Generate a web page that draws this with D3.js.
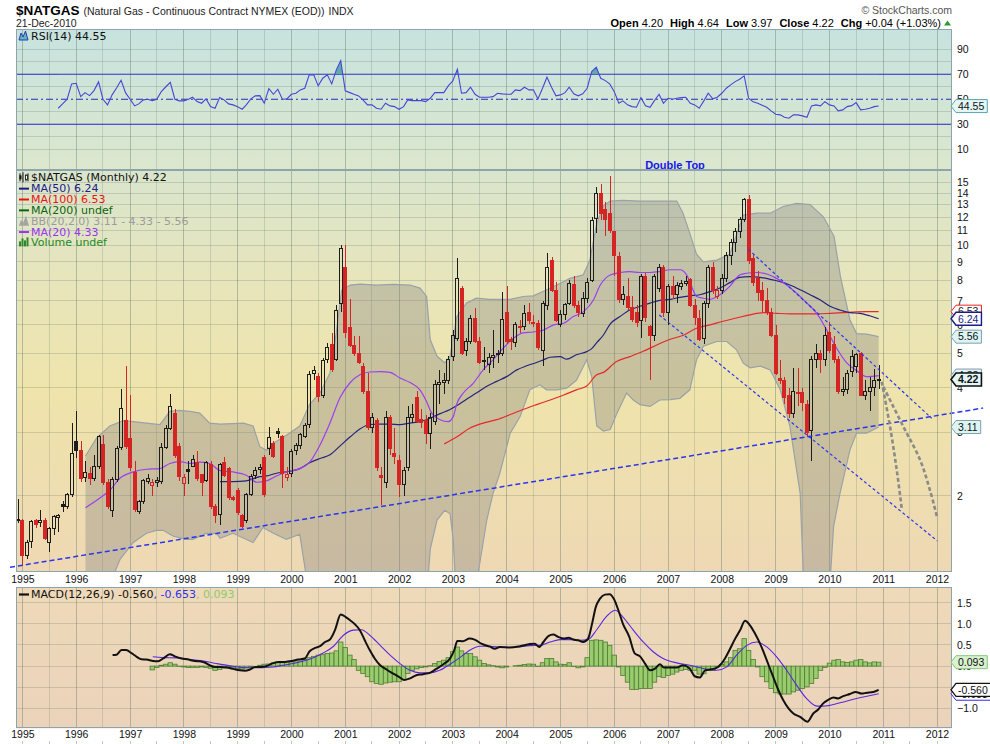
<!DOCTYPE html>
<html>
<head>
<meta charset="utf-8">
<title>$NATGAS</title>
<script src="https://cdnjs.cloudflare.com/ajax/libs/d3/7.8.5/d3.min.js"></script>
<style>
  body { margin: 0; background: #fff; }
  svg { display: block; }
  text { font-family: "Liberation Sans", Arial, sans-serif; }
  .leg { font-family: "DejaVu Sans", Verdana, sans-serif; font-size: 11px; }
  .ax text { font-size: 10.5px; fill: #111; font-family: "Liberation Sans", Arial, sans-serif; }
  .ax .domain { display: none; }
</style>
</head>
<body>
<svg id="chart" width="990" height="744"></svg>
<script>
// ---- data ----
const parseMonth = d3.timeParse('%Y-%m');
const candleStart = '1994-12';
// monthly [open, high, low, close]
const ohlc = [
  // 1994-12
  [1.72,1.96,1.68,1.71],
  // 1995
  [1.70,1.72,1.27,1.36],[1.36,1.50,1.33,1.48],[1.49,1.71,1.43,1.69],[1.70,1.72,1.62,1.66],
  [1.68,1.82,1.64,1.71],[1.71,1.73,1.50,1.52],[1.48,1.63,1.39,1.62],[1.62,1.77,1.55,1.75],
  [1.74,1.78,1.58,1.76],[1.89,1.93,1.80,1.87],[1.87,2.03,1.84,2.01],[2.01,3.20,1.98,2.63],
  // 1996
  [2.84,3.45,2.55,2.68],[2.68,2.85,2.18,2.23],[2.25,2.50,2.18,2.32],[2.30,2.40,2.14,2.24],
  [2.24,2.60,2.20,2.42],[2.41,2.95,2.38,2.92],[2.78,2.95,2.14,2.17],[2.18,2.22,1.84,1.87],
  [1.82,2.25,1.74,2.22],[2.22,2.75,2.18,2.71],[2.72,3.97,2.68,3.50],[3.25,4.60,2.70,2.75],
  // 1997
  [2.88,3.83,2.35,2.39],[2.32,2.50,1.80,1.83],[1.81,1.95,1.78,1.93],[1.93,2.22,1.90,2.20],
  [2.19,2.30,2.15,2.24],[2.14,2.22,1.99,2.17],[2.17,2.25,2.12,2.21],[2.19,2.80,2.15,2.72],
  [2.72,3.15,2.70,3.08],[3.08,3.85,3.05,3.55],[3.39,3.50,2.55,2.59],[2.75,2.80,2.20,2.26],
  // 1998
  [2.16,2.30,1.99,2.25],[2.36,2.50,2.15,2.33],[2.42,2.60,2.40,2.52],[2.47,2.67,2.20,2.24],
  [2.29,2.30,2.00,2.18],[2.20,2.50,2.18,2.47],[2.45,2.50,1.84,1.86],[1.87,1.90,1.68,1.76],
  [1.77,2.46,1.66,2.44],[2.47,2.57,2.25,2.28],[2.38,2.40,1.95,1.98],[1.98,2.00,1.93,1.95],
  // 1999
  [2.07,2.10,1.77,1.79],[1.76,1.78,1.62,1.64],[1.70,2.03,1.68,2.01],[2.01,2.30,2.00,2.26],
  [2.28,2.40,2.22,2.35],[2.36,2.45,2.30,2.40],[2.55,2.60,1.98,2.02],[2.70,3.12,2.60,2.90],
  [2.80,2.85,2.55,2.57],[3.02,3.10,2.90,2.99],[2.92,2.95,2.10,2.31],[2.25,2.40,2.20,2.29],
  // 2000
  [2.30,2.70,2.25,2.66],[2.68,2.80,2.60,2.76],[2.76,3.00,2.70,2.96],[2.93,3.20,2.90,3.15],
  [3.17,4.45,3.10,4.37],[4.40,4.60,4.20,4.48],[4.30,4.40,3.65,3.78],[3.80,4.85,3.75,4.78],
  [4.80,5.35,4.70,5.20],[5.30,5.70,4.42,4.50],[4.80,6.80,4.75,6.60],[6.90,10.0,6.50,9.80],
  // 2001
  [8.70,10.0,5.50,5.70],[5.90,7.10,5.20,5.25],[5.25,5.60,4.90,5.00],[5.00,5.60,4.65,4.70],
  [4.60,4.70,3.85,3.90],[3.90,4.40,3.05,3.10],[3.10,3.40,3.00,3.30],[3.25,3.30,2.35,2.40],
  [2.28,2.40,1.88,2.25],[2.18,3.45,2.10,3.30],[3.30,3.35,2.60,2.70],[2.63,3.10,2.45,2.58],
  // 2002
  [2.50,2.60,1.98,2.15],[2.15,2.40,2.00,2.35],[2.40,3.55,2.35,3.30],[3.30,3.60,3.20,3.37],
  [3.75,3.92,3.20,3.22],[3.27,3.50,3.10,3.20],[3.25,3.35,2.78,2.98],[2.98,3.40,2.70,3.30],
  [3.22,4.20,3.15,4.10],[4.10,4.50,3.60,4.15],[4.15,4.40,3.85,4.20],[4.20,4.90,4.10,4.80],
  // 2003
  [4.90,5.80,4.75,5.60],[5.50,9.20,5.40,8.10],[7.60,7.70,4.95,5.00],[5.10,5.50,4.90,5.40],
  [5.40,6.40,5.30,6.25],[6.25,6.70,5.35,5.40],[5.40,5.55,4.65,4.70],[4.75,5.20,4.50,4.77],
  [4.65,5.00,4.40,4.85],[4.85,5.80,4.55,4.93],[5.00,5.10,4.70,4.95],[5.00,7.40,4.90,6.20],
  // 2004
  [6.50,7.70,5.30,5.40],[5.45,5.55,5.10,5.38],[5.35,6.10,5.20,6.00],[5.95,6.20,5.70,5.90],
  [5.95,6.80,5.80,6.45],[6.50,6.90,6.05,6.15],[6.10,6.40,5.90,6.08],[6.05,6.20,5.10,5.20],
  [5.10,7.00,4.60,6.90],[6.80,9.50,6.60,8.70],[9.10,9.30,7.40,7.50],[7.50,7.90,6.10,6.15],
  // 2005
  [6.00,6.60,5.90,6.40],[6.40,6.90,6.20,6.85],[6.90,8.00,6.80,7.85],[7.80,8.20,6.70,6.80],
  [6.80,7.00,6.30,6.50],[6.45,7.40,6.30,7.10],[7.10,8.10,6.90,7.90],[8.00,12.0,7.90,11.7],
  [11.9,14.6,10.8,14.0],[14.0,14.8,11.8,12.3],[12.6,13.2,10.6,11.8],[12.3,15.6,10.8,11.0],
  // 2006
  [10.9,11.0,8.20,9.40],[9.30,9.60,6.90,7.05],[7.05,7.70,6.80,7.30],[7.20,8.10,6.60,6.70],
  [6.70,7.20,6.10,6.20],[6.50,6.80,5.90,6.10],[6.15,8.30,5.50,8.20],[8.20,8.40,6.10,6.30],
  [5.95,6.00,4.20,5.60],[5.60,8.30,5.40,8.20],[7.60,8.90,7.40,8.70],[8.70,8.80,6.30,6.50],
  // 2007
  [6.50,7.80,6.00,7.70],[7.70,8.20,7.10,7.30],[7.30,7.90,6.90,7.75],[7.70,8.00,7.50,7.85],
  [7.85,8.20,7.70,7.95],[8.05,8.10,6.75,6.80],[6.80,7.10,6.00,6.30],[6.25,6.60,5.40,5.45],
  [5.50,7.00,5.30,6.90],[6.90,8.80,6.70,8.70],[8.70,9.00,7.30,7.50],[7.20,7.70,7.10,7.48],
  // 2008
  [7.50,8.30,7.30,8.10],[8.10,9.60,7.90,9.40],[9.40,10.4,8.80,10.2],[10.2,11.2,9.60,10.9],
  [10.9,12.0,10.5,11.8],[11.8,13.6,11.6,13.4],[13.4,13.8,8.90,9.10],[9.20,9.40,7.70,7.90],
  [8.10,8.50,7.00,7.40],[7.50,7.90,6.50,7.00],[7.00,7.60,6.40,6.50],[6.50,6.70,5.55,5.60],
  // 2009
  [5.60,6.00,4.35,4.40],[4.25,4.80,4.10,4.20],[4.20,4.30,3.60,3.75],[3.80,4.00,3.30,3.40],
  [3.40,4.55,3.30,3.90],[3.88,4.55,3.55,3.89],[3.88,4.00,3.45,3.65],[3.60,3.70,2.92,3.00],
  [3.05,4.90,2.50,4.80],[4.80,5.30,4.55,5.00],[5.00,5.10,4.40,4.80],[4.80,5.90,4.60,5.60],
  // 2010
  [5.70,6.10,5.00,5.10],[5.30,5.60,4.70,4.80],[4.80,4.90,3.85,3.90],[3.90,4.30,3.80,3.95],
  [3.95,4.50,3.85,4.40],[4.45,5.10,4.30,4.90],[4.60,5.00,4.40,4.95],[5.00,5.05,3.80,3.82],
  [3.82,4.20,3.70,3.90],[3.90,4.30,3.45,4.02],[4.02,4.52,3.80,4.20],[4.20,4.64,3.97,4.22]
];

// overlays: [months after Jan 1995, price]
const ma20 = [[14.1,1.85],[17.3,1.97],[19.5,2.07],[21.8,2.24],[24.7,2.33],[27.7,2.37],[30.7,2.38],[32.9,2.46],
  [35.1,2.49],[37.4,2.46],[39.6,2.48],[41.8,2.46],[44.1,2.35],[47,2.33],[50,2.28],[52.3,2.18],[54.5,2.2],
  [56.7,2.27],[58.9,2.33],[61.9,2.38],[64.1,2.48],[66.4,2.77],[68.6,3.19],[70.8,3.75],[73.1,4.14],[75.3,4.35],
  [77.5,4.43],[79.8,4.44],[82,4.42],[84.2,4.26],[86.5,4.14],[88.7,3.95],[90.2,3.66],[91.3,3.4],[93.2,3.26],
  [95,3.22],[96.1,3.33],[96.9,3.62],[98.4,3.87],[100.6,4.12],[102.8,4.49],[105,4.79],[107.3,5.17],[109.5,5.5],
  [111.7,5.7],[114,5.73],[116.2,5.8],[118.5,6.0],[120.7,6.06],[122.9,6.33],[125.2,6.53],[127.4,7.05],
  [128.9,7.75],[131.1,8.27],[133.3,8.4],[135.5,8.45],[137.8,8.4],[140,8.4],[142.2,8.45],[144.5,8.55],
  [146.7,8.55],[148.2,8.27],[149.3,7.68],[150.4,7.2],[151.9,7.12],[153.4,7.07],[155.6,7.28],[157.8,7.68],
  [160,8.27],[161.5,8.36],[163.8,8.4],[166,8.32],[168.2,8.09],[170.5,7.75],[172.7,7.35],[175,6.9],
  [177.2,6.46],[179.4,5.8],[181.6,5.17],[183.9,4.7],[186.1,4.47],[188.3,4.3],[191,4.33]];
const bbUpper = [[14.1,2.58],[16.6,2.9],[19.5,3.13],[22.5,3.24],[24.7,3.22],[27.7,3.19],[30.7,3.16],[32.9,3.44],
  [35.1,3.46],[37.4,3.44],[39.6,3.4],[41.8,3.19],[44.1,3.17],[47,3.18],[49.3,3.19],[51.5,3.13],[53,2.74],
  [54.5,2.68],[56,2.8],[58.9,2.95],[61.9,3.13],[64.1,3.6],[66.4,3.87],[68.6,4.4],[70,5.7],[71.2,7.5],
  [73.1,7.75],[75.3,7.8],[79,7.75],[82.7,7.78],[86.5,7.75],[88.7,7.6],[90.2,7.2],[91,5.45],[92.5,4.9],
  [94.2,4.7],[95.4,4.9],[96.9,6.33],[99.1,6.9],[101.3,7.12],[104.3,7.07],[106.5,7.07],[108.8,7.07],
  [111.7,7.2],[114,7.23],[116.2,7.45],[119.2,7.75],[122.2,8.09],[125.1,8.27],[126.6,9.1],[128.1,11.5],
  [129.6,12.9],[131.1,13.3],[134,13.35],[137.8,13.3],[141.5,13.3],[146,13.3],[147.4,12.3],[148.9,10.8],
  [150.4,9.45],[151.9,9.0],[154.9,9.1],[157.8,9.45],[160.8,12.15],[163.8,12.3],[166.8,12.3],[169.7,12.84],
  [172.7,13.1],[175.7,13.0],[178.7,12.0],[181,10.6],[182.5,8.18],[184.6,6.2],[186.1,5.67],[188.3,5.65],[191,5.56]];
// null = below the bottom of the price panel
const bbLower = [[14.1,null],[19.5,null],[21.8,1.33],[24.7,1.48],[27.7,1.57],[29.9,1.60],[31.4,1.60],[33.7,1.54],
  [36.6,1.51],[38.1,1.51],[41.1,1.57],[43.3,1.57],[44.1,1.52],[47,1.57],[51.5,1.48],[53.7,1.63],[56,1.57],
  [58.9,1.51],[61.9,1.56],[63.6,null],[90.4,null],[91,1.42],[92.5,1.71],[94.2,1.82],[95.4,1.78],[96.1,1.50],
  [96.6,null],[101.3,null],[103.6,1.71],[105,2.03],[106.5,2.31],[108.8,2.99],[111,3.32],[113.2,3.95],
  [115.4,4.08],[116.9,3.95],[119.2,3.95],[121.4,3.99],[123.6,4.20],[125.9,4.79],[127,4.30],[128.1,3.13],
  [129.6,3.03],[131.1,3.06],[132.6,3.40],[134.8,3.87],[136.3,3.70],[137.8,3.59],[140,3.55],[142.2,3.70],
  [144.5,3.71],[146.7,3.74],[148.9,3.95],[150.4,4.79],[151.9,5.23],[154.9,5.39],[157.1,5.39],[159.3,5.11],
  [160.8,4.69],[162.3,4.55],[164.6,4.60],[166.8,4.49],[169,3.95],[171.2,3.13],[173.5,2.03],[174.3,null],
  [180.1,null],[180.9,1.64],[182.4,2.03],[184.6,2.68],[186.1,2.99],[188.3,2.99],[191,3.11]];
const ma50 = [[44.1,2.19],[47,2.19],[50,2.2],[53,2.26],[54.5,2.27],[56.7,2.31],[58.9,2.33],[61.9,2.38],[64.1,2.47],
  [66.4,2.54],[68.6,2.6],[70.8,2.75],[73.1,2.92],[75.3,3.07],[77.5,3.16],[79.8,3.17],[82,3.17],[84.2,3.16],
  [86.5,3.19],[88.7,3.22],[91,3.29],[93.2,3.39],[95.4,3.48],[96.9,3.57],[99.1,3.72],[101.3,3.87],[103.6,4.04],
  [105.8,4.17],[108,4.3],[110.3,4.49],[112.5,4.61],[114.7,4.71],[116.2,4.79],[117.7,4.87],[119.9,4.89],
  [121.4,4.81],[123.6,4.95],[125.9,5.05],[127,5.15],[128.1,5.35],[129.6,5.62],[131.1,6.03],[133.3,6.33],
  [135.5,6.6],[137.8,6.76],[140,6.9],[142.2,7.02],[144.5,7.07],[146.7,7.16],[148.9,7.23],[151.1,7.28],
  [153.4,7.43],[155.6,7.6],[157.8,7.87],[160,8.14],[162.3,8.18],[164.5,8.14],[166.8,8.04],[169,7.92],
  [171.2,7.75],[173.5,7.52],[175.7,7.28],[177.9,7.05],[180.1,6.76],[182.4,6.6],[184.6,6.49],[186.8,6.46],
  [189,6.36],[191,6.24]];
const ma100 = [[94.1,2.79],[96.9,2.92],[99.9,3.09],[102.8,3.19],[105.8,3.26],[108.8,3.37],[111.7,3.48],[114.7,3.59],
  [117.7,3.7],[120.7,3.82],[123.6,3.95],[125.9,4.05],[128.1,4.35],[129.6,4.42],[132.5,4.74],[135.5,4.89],
  [138.5,5.06],[141.5,5.27],[144.5,5.47],[147.5,5.61],[150.4,5.87],[153.4,6.0],[156.3,6.14],[159.3,6.27],
  [162.3,6.4],[165.3,6.49],[168.2,6.46],[171.2,6.44],[174.2,6.44],[177.2,6.44],[180.1,6.46],[183.1,6.49],
  [186.1,6.52],[188.3,6.53],[191,6.53]];

// RSI(14), monthly from Sep 1995
const rsiStart = '1995-09';
const rsi = [42.8,46.3,50,62.3,62.8,52.1,55.3,52.9,56.9,63.9,50,45.5,53.5,59,65.2,55.3,
  50,44.7,46.3,49.5,50,48.9,50,56.1,60,63.6,50,48.7,
  48.7,50,51.6,48.1,46.8,50.3,44.1,42.8,51.3,49.5,46.3,45.5,
  44,42,45.5,50.3,52.7,52.9,46.8,58.5,54,58,50,50.3,
  54,54.8,57.5,58.8,69.5,69.5,60.7,66.8,69.5,62.3,73.5,80.9,
  56.7,55.3,54,52.7,49.5,45.5,45.5,42.8,42,46.8,44.7,44.1,
  42,44.1,49.5,48.9,48.9,48.9,48.1,50.8,55.3,55.3,55.3,60.7,
  64.7,74,54.8,55.3,59.6,54,51.6,51.6,51.6,52.1,54.8,54.3,
  54,54,57.5,56.9,59.6,57.5,57.5,50.3,58.8,67.6,59.6,52.7,
  53.5,55.3,59.6,54.3,52.7,54.3,58.8,72.1,75.6,66.8,64.9,62.3,
  56.1,46.8,48.7,45.5,44.1,43.6,51.3,44.7,43.6,48.9,54,46.8,
  50.8,50,50.8,51.3,51.6,46.8,45.5,42.8,48.7,54.8,50.3,51.6,
  54.8,58.8,61.5,64.1,66,68.7,50.8,47.9,46.8,45.2,43.6,40.7,
  38,37.5,35.6,34.8,37.5,37.5,36.7,35.6,44.7,45.5,44.7,48.1,
  45.5,44.7,40.7,41.5,44.1,44.9,47.3,41.5,42,42.8,44.1,44.55];

// MACD(12,26,9): [months after Jan 1995, value]
const macdLine = [[20.1,0.26],[21,0.27],[22.1,0.38],[23.1,0.38],[24.4,0.30],[25.5,0.22],[26.6,0.16],[27.7,0.155],
  [29.2,0.12],[30.3,0.115],[31.4,0.18],[32.9,0.28],[34,0.23],[35.5,0.18],[37,0.155],[38.5,0.12],[39.6,0.115],
  [40.7,0.085],[41.8,0.02],[43,-0.02],[44.1,-0.02],[45.6,-0.035],[47,-0.065],[48.5,-0.10],[49.6,-0.11],
  [50.8,-0.08],[51.9,-0.02],[53,-0.02],[54.5,0],[55.6,0.06],[57.1,0.10],[58.6,0.10],[60.1,0.12],[61.5,0.155],
  [63,0.18],[64.1,0.35],[65.3,0.43],[66.4,0.47],[67.5,0.57],[68.6,0.63],[69.7,0.85],[71,1.22],[72.1,1.16],
  [73.1,1.08],[74.2,0.99],[75.3,0.85],[76.4,0.61],[77.5,0.38],[78.6,0.18],[79.8,0.02],[81.2,-0.08],
  [82.7,-0.175],[84.2,-0.27],[85.1,-0.33],[86.5,-0.29],[87.9,-0.215],[89.4,-0.19],[90.9,-0.16],[92.4,-0.06],
  [93.9,0.045],[95.4,0.18],[96.3,0.375],[97,0.595],[98.3,0.587],[99.8,0.65],[100.9,0.627],[102.4,0.53],
  [104.3,0.46],[105.4,0.41],[106.5,0.45],[108.8,0.44],[111,0.47],[113.2,0.52],[114.3,0.53],[115.3,0.45],
  [116.2,0.57],[117.3,0.71],[118.4,0.745],[119.5,0.69],[120.7,0.65],[121.8,0.67],[122.9,0.63],[124,0.61],
  [125.1,0.57],[126.2,0.65],[127,0.965],[127.9,1.40],[128.8,1.59],[129.9,1.69],[131,1.70],[131.9,1.59],
  [132.9,1.32],[134,1.0],[135.4,0.69],[136.6,0.30],[137.8,0.23],[138.9,0.06],[140,-0.10],[141.1,-0.06],
  [142.2,0.045],[143.1,-0.035],[144.5,-0.035],[146,-0.035],[147.4,0.02],[148.9,-0.06],[150,-0.24],
  [151.1,-0.27],[152.3,-0.10],[153.4,-0.08],[154.5,-0.06],[155.6,0.02],[156.7,0.18],[157.7,0.375],[159,0.65],
  [160.1,0.85],[161.2,1.07],[162.3,0.965],[163.4,0.77],[164.7,0.49],[166,0.14],[167.3,-0.215],[168.6,-0.57],
  [169.7,-0.80],[170.9,-1.0],[172,-1.12],[173.5,-1.20],[175.1,-1.315],[176.4,-1.12],[177.5,-1.025],
  [178.6,-0.88],[179.8,-0.79],[180.9,-0.74],[182,-0.765],[183.1,-0.71],[184.6,-0.66],[185.9,-0.61],
  [187.2,-0.65],[188.3,-0.63],[189.8,-0.61],[191,-0.56]];
const signalLine = [[29.1,0.22],[31.4,0.20],[34.4,0.195],[37.4,0.155],[40.4,0.12],[43.3,0.06],[46.3,0.005],
  [49.3,-0.035],[51.5,-0.04],[53.7,-0.035],[56,-0.02],[58.2,0.02],[60.4,0.06],[62.7,0.12],[64.9,0.20],
  [67.1,0.31],[69.4,0.47],[71.6,0.73],[73.8,0.85],[75.7,0.86],[77.5,0.73],[79.8,0.49],[82,0.26],[84.2,0.06],
  [86.5,-0.10],[88.7,-0.16],[90.9,-0.16],[93.1,-0.10],[95.4,0.045],[97.6,0.20],[99.8,0.375],[102.1,0.47],
  [104.3,0.47],[107.3,0.44],[110.3,0.45],[113.2,0.485],[115.4,0.49],[117.7,0.57],[119.9,0.627],[122.1,0.627],
  [124.4,0.61],[126.2,0.627],[128.1,0.86],[130,1.14],[132.2,1.32],[134,1.16],[136.3,0.85],[138.5,0.57],
  [140.7,0.34],[142.9,0.18],[146,0.076],[148.9,0.02],[151.9,-0.057],[154.9,-0.097],[157.1,-0.018],
  [159.3,0.257],[161.6,0.49],[163.8,0.57],[166,0.454],[168.2,0.22],[170.5,-0.097],[172.7,-0.45],
  [174.9,-0.765],[177.2,-0.946],[178.6,-0.946],[182.4,-0.867],[186.1,-0.765],[191,-0.653]];
// histogram, monthly from Jun 1997
const histStart = '1997-06';
const hist = [-0.09,-0.03,0.02,0.045,0.08,0.045,-0.01,
  -0.02,-0.03,-0.03,-0.03,-0.02,-0.03,-0.05,-0.10,-0.08,-0.04,-0.04,-0.04,
  -0.06,-0.07,-0.04,-0.02,0.0,0.02,0.045,0.05,0.075,0.09,0.10,0.10,
  0.075,0.10,0.12,0.155,0.20,0.23,0.26,0.27,0.30,0.31,0.36,0.57,
  0.44,0.26,0.155,-0.10,-0.175,-0.25,-0.37,-0.41,-0.43,-0.40,-0.38,-0.37,
  -0.37,-0.32,-0.175,-0.10,-0.065,-0.035,-0.02,0.01,0.06,0.11,0.14,0.20,
  0.34,0.45,0.36,0.30,0.30,0.22,0.14,0.06,0.03,0.01,-0.02,-0.04,
  -0.02,0.0,0.01,0.02,0.04,0.05,0.045,-0.01,0.08,0.18,0.18,0.10,
  0.045,0.04,0.08,-0.01,-0.04,-0.02,0.20,0.61,0.62,0.61,0.57,0.49,
  0.26,-0.02,-0.22,-0.38,-0.55,-0.55,-0.53,-0.53,-0.53,-0.38,-0.25,-0.27,
  -0.22,-0.19,-0.14,-0.10,-0.08,-0.10,-0.10,-0.19,-0.18,-0.10,-0.10,-0.02,
  0.04,0.10,0.20,0.37,0.41,0.65,0.37,0.155,-0.02,-0.25,-0.37,-0.53,
  -0.63,-0.66,-0.66,-0.66,-0.61,-0.57,-0.53,-0.49,-0.41,-0.29,-0.10,-0.03,
  0.07,0.14,0.155,0.10,0.085,0.10,0.14,0.155,0.10,0.075,0.10,0.093];

// hand-drawn annotations: [decimal year, price]
const trendLines = [
  {pts: [[1994.77,1.262],[2012.855,3.513]], w: 1.5, dash: '5,3'},
  {pts: [[2008.493,9.75],[2011.901,3.29]], w: 1.2, dash: '3,2.5'},
  {pts: [[2006.838,6.39],[2012.006,1.495]], w: 1.2, dash: '3,2.5'}
];
const projections = [
  [[2010.972,4.16],[2011.126,3.12],[2011.251,2.36],[2011.344,1.84]],
  [[2011.002,4.03],[2011.373,3.12],[2011.684,2.52],[2011.870,2.07],[2012.006,1.73]]
];

const priceTicks = [2,3,4,5,6,7,8,9,10,11,12,13,14,15];
const rsiTicks = [10,30,50,70,90];
const macdTicks = [-1,-0.5,0,0.5,1,1.5];

// ---- layout ----
const L = 16, R = 952;
const P = {
  rsi: {top: 29, bot: 170},
  main: {top: 170, bot: 572},
  macd: {top: 587, bot: 728.3}
};
const RED = '#d42424', BLK = '#1c1c1c';

const svg = d3.select('#chart');
const x = d3.scaleTime().domain([new Date(1995, 0, 1), new Date(2012, 0, 1)]).range([22.4, 937]);
const y = d3.scaleLog().domain([1.224, 16.24]).range([P.main.bot, P.main.top]);
const yR = d3.scaleLinear().domain([-6.6, 106.2]).range([P.rsi.bot, P.rsi.top]);
const yM = d3.scaleLinear().domain([-1.47, 1.87]).range([P.macd.bot, P.macd.top]);

const monthDate = k => {
  const m = Math.floor(k), a = new Date(1995, m, 1), b = new Date(1995, m + 1, 1);
  return new Date(+a + (k - m) * (b - a));
};
const yearDate = t => {
  const yr = Math.floor(t), a = new Date(yr, 0, 1), b = new Date(yr + 1, 0, 1);
  return new Date(+a + (t - yr) * (b - a));
};

const defs = svg.append('defs');
function gradient(id, stops) {
  const g = defs.append('linearGradient').attr('id', id)
    .attr('x1', 0).attr('y1', 0).attr('x2', 0).attr('y2', 1);
  stops.forEach(([o, c]) => g.append('stop').attr('offset', o).attr('stop-color', c));
}
gradient('gRsi', [[0, '#c7e3df'], [1, '#dce7cd']]);
gradient('gMain', [[0, '#d9e5cd'], [0.3, '#e8e5ba'], [0.55, '#efe4ab'], [1, '#eed8b4']]);
gradient('gMacd', [[0, '#eed9b8'], [1, '#ebd3bb']]);
function clip(id, top, bot) {
  defs.append('clipPath').attr('id', id).append('rect')
    .attr('x', L).attr('y', top).attr('width', R - L).attr('height', bot - top);
}
clip('cRsi', P.rsi.top, P.rsi.bot);
clip('cMain', P.main.top, P.main.bot);
clip('cMacd', P.macd.top, P.macd.bot);
clip('cRsiHigh', P.rsi.top, yR(70));

// panel backgrounds
[['rsi', 'gRsi'], ['main', 'gMain'], ['macd', 'gMacd']].forEach(([k, g]) => {
  svg.append('rect').attr('x', L).attr('y', P[k].top)
    .attr('width', R - L).attr('height', P[k].bot - P[k].top).attr('fill', `url(#${g})`);
});

// grid
const halfYears = d3.timeMonth.every(6).range(new Date(1995, 0, 1), new Date(2012, 1, 1));
const grid = svg.append('g').attr('shape-rendering', 'crispEdges');
Object.values(P).forEach(p => {
  grid.append('g').selectAll('line').data(halfYears).join('line')
    .attr('x1', d => x(d)).attr('x2', d => x(d)).attr('y1', p.top).attr('y2', p.bot)
    .attr('stroke', d => d.getMonth() === 0 ? 'rgba(80,105,95,0.36)' : 'rgba(80,105,95,0.2)');
});
function hGrid(vals, scale) {
  grid.append('g').selectAll('line').data(vals).join('line')
    .attr('x1', L).attr('x2', R).attr('y1', d => scale(d)).attr('y2', d => scale(d))
    .attr('stroke', 'rgba(80,105,95,0.22)');
}
hGrid(priceTicks, y);
hGrid([10, 20, 40, 60, 80, 90], yR);
hGrid(macdTicks, yM);

// ---- RSI panel ----
const gr = svg.append('g').attr('clip-path', 'url(#cRsi)');
const rsiData = rsi.map((v, i) => ({date: d3.timeMonth.offset(parseMonth(rsiStart), i), v}));
[70, 30].forEach(v => gr.append('line').attr('x1', L).attr('x2', R)
  .attr('y1', yR(v)).attr('y2', yR(v)).attr('stroke', '#2424c4').attr('stroke-width', 1.2));
gr.append('line').attr('x1', L).attr('x2', R).attr('y1', yR(50)).attr('y2', yR(50))
  .attr('stroke', '#2a2ab8').attr('stroke-dasharray', '7,3,2,3');
gr.append('path').datum(rsiData).attr('clip-path', 'url(#cRsiHigh)')
  .attr('fill', '#62a9ad')
  .attr('d', d3.area().x(d => x(d.date)).y0(yR(70)).y1(d => yR(d.v)));
gr.append('path').datum(rsiData).attr('fill', 'none').attr('stroke', '#4646d6').attr('stroke-width', 1.1)
  .attr('d', d3.line().x(d => x(d.date)).y(d => yR(d.v)));

// ---- price panel ----
const gm = svg.append('g').attr('clip-path', 'url(#cMain)');
const px = d => x(monthDate(d[0]));
const upperPts = bbUpper.map(d => [px(d), y(d[1])]);
const lowerPts = bbLower.map(d => [px(d), d[1] == null ? P.main.bot + 12 : y(d[1])]);
gm.append('path').attr('d', d3.line()(upperPts.concat(lowerPts.slice().reverse())) + 'Z')
  .attr('fill', 'rgba(120,120,125,0.32)');
[upperPts, lowerPts].forEach(pts => gm.append('path').attr('d', d3.line()(pts))
  .attr('fill', 'none').attr('stroke', '#9aa2a8').attr('stroke-width', 1.2));

const maLine = d3.line().x(px).y(d => y(d[1])).curve(d3.curveMonotoneX);
[[ma100, '#e42a2a'], [ma50, '#24247e'], [ma20, '#9b3ff0']].forEach(([s, c]) =>
  gm.append('path').datum(s).attr('fill', 'none').attr('stroke', c).attr('stroke-width', 1.2).attr('d', maLine));

const candles = ohlc.map((d, i) => ({
  date: d3.timeMonth.offset(parseMonth(candleStart), i),
  o: d[0], h: d[1], l: d[2], c: d[3], prev: i ? ohlc[i - 1][3] : d[3]
}));
const gc = gm.append('g').attr('shape-rendering', 'crispEdges');
candles.forEach(d => {
  const cx = Math.round(x(d.date));
  const col = d.c < d.prev ? RED : BLK;
  const top = y(Math.max(d.o, d.c)), bot = y(Math.min(d.o, d.c));
  gc.append('line').attr('x1', cx).attr('x2', cx).attr('y1', y(d.h)).attr('y2', top).attr('stroke', col);
  gc.append('line').attr('x1', cx).attr('x2', cx).attr('y1', bot).attr('y2', y(d.l)).attr('stroke', col);
  gc.append('rect').attr('x', cx - 1.5).attr('y', top).attr('width', 3).attr('height', Math.max(1, bot - top))
    .attr('fill', d.c < d.o ? col : 'none').attr('stroke', col);
});

// annotations
const ga = svg.append('g');
const tl = d3.line().x(d => x(yearDate(d[0]))).y(d => y(d[1]));
trendLines.forEach(t => ga.append('path').attr('d', tl(t.pts)).attr('fill', 'none')
  .attr('stroke', '#2a35ee').attr('stroke-width', t.w).attr('stroke-dasharray', t.dash));
projections.forEach(p => ga.append('path').attr('d', tl.curve(d3.curveCatmullRom)(p)).attr('fill', 'none')
  .attr('stroke', '#8a8a8a').attr('stroke-width', 2.6).attr('stroke-dasharray', '4,2.5'));
ga.append('text').attr('x', 675).attr('y', 168.5).attr('text-anchor', 'middle')
  .attr('font-weight', 'bold').style('font-size', '11px').attr('fill', '#1616ee').text('Double Top');

// ---- MACD panel ----
const gd = svg.append('g').attr('clip-path', 'url(#cMacd)');
const z0 = yM(0);
gd.append('g').selectAll('rect').data(hist).join('rect')
  .attr('x', (v, i) => x(d3.timeMonth.offset(parseMonth(histStart), i)) - 2.24)
  .attr('width', 4.48)
  .attr('y', v => Math.min(z0, yM(v)))
  .attr('height', v => Math.abs(yM(v) - z0))
  .attr('fill', '#9acb6c').attr('stroke', '#4f7d36').attr('stroke-width', 0.8);
const ml = d3.line().x(px).y(d => yM(d[1])).curve(d3.curveMonotoneX);
gd.append('path').datum(signalLine).attr('fill', 'none').attr('stroke', '#5a26e0').attr('stroke-width', 1.1).attr('d', ml);
gd.append('path').datum(macdLine).attr('fill', 'none').attr('stroke', '#111').attr('stroke-width', 2).attr('d', ml);

// panel borders
Object.values(P).forEach(p => svg.append('rect').attr('x', L + 0.5).attr('y', p.top + 0.5)
  .attr('width', R - L - 1).attr('height', p.bot - p.top - 1)
  .attr('fill', 'none').attr('stroke', '#8ea4ac').attr('shape-rendering', 'crispEdges'));

// ---- axes ----
const years = d3.timeYear.range(new Date(1995, 0, 1), new Date(2012, 0, 2));
[576, 731].forEach(ty => svg.append('g').attr('class', 'ax').attr('transform', `translate(0,${ty})`)
  .call(d3.axisBottom(x).tickValues(years).tickFormat(d3.timeFormat('%Y')).tickSize(0).tickPadding(0)));
svg.append('g').attr('shape-rendering', 'crispEdges').selectAll('line').data(halfYears).join('line')
  .attr('x1', d => x(d)).attr('x2', d => x(d)).attr('y1', 741).attr('y2', 744).attr('stroke', '#c4c4c4');

const rightAxis = (scale, vals, fmt) => svg.append('g').attr('class', 'ax').attr('transform', `translate(${R},0)`)
  .call(d3.axisRight(scale).tickValues(vals).tickFormat(fmt).tickSize(0).tickPadding(5));
rightAxis(y, priceTicks, d3.format('d'));
rightAxis(yR, rsiTicks, d3.format('d'));
rightAxis(yM, macdTicks, d3.format('.1f'));

function tag(label, yy, o) {
  const g = svg.append('g');
  const t = g.append('text').attr('x', R + 6).attr('y', yy + 3.8).text(label)
    .style('font-size', '10.5px').attr('font-weight', o.bold ? 'bold' : null).attr('fill', o.color || '#111');
  const w = t.node().getComputedTextLength();
  g.insert('path', 'text')
    .attr('d', `M${R - 1},${yy} L${R + 4},${yy - 6.5} H${R + w + 9} V${yy + 6.5} H${R + 4} Z`)
    .attr('fill', o.fill).attr('stroke', o.stroke).attr('stroke-width', o.sw || 1);
}
const last = a => a[a.length - 1][1];
const lastC = ohlc[ohlc.length - 1][3];
tag(rsi[rsi.length - 1].toFixed(2), yR(rsi[rsi.length - 1]), {fill: '#e2f7f6', stroke: '#5fa3ab'});
tag(last(ma100).toFixed(2), y(last(ma100)), {fill: '#fff', stroke: '#ee2020', color: '#222'});
tag(last(ma50).toFixed(2), y(last(ma50)), {fill: '#fff', stroke: '#1c1c86', color: '#1c1c86', sw: 1.4});
tag(last(bbUpper).toFixed(2), y(last(bbUpper)), {fill: '#dcf4f3', stroke: '#7fa2aa'});
tag(last(ma20).toFixed(2), y(last(ma20)), {fill: '#dcf4f3', stroke: '#8a98b0'});
tag(lastC.toFixed(2), y(lastC), {fill: '#e2f7f6', stroke: '#111', bold: true, sw: 1.6});
tag(last(bbLower).toFixed(2), y(last(bbLower)), {fill: '#dcf4f3', stroke: '#7fa2aa'});
tag(hist[hist.length - 1].toFixed(3), yM(hist[hist.length - 1]), {fill: '#d8f2cf', stroke: '#86c57a'});
tag(last(signalLine).toFixed(3), yM(last(signalLine)), {fill: '#fff', stroke: '#3a2af0'});
tag(last(macdLine).toFixed(3), yM(last(macdLine)), {fill: '#fff', stroke: '#111', sw: 1.3});

// ---- header ----
svg.append('text').attr('x', 16).attr('y', 14.5).style('font-size', '10.5px')
  .call(t => {
    t.append('tspan').attr('font-weight', 'bold').style('font-size', '13.5px').text('$NATGAS');
    t.append('tspan').attr('dx', 4).attr('fill', '#222').text('(Natural Gas - Continuous Contract NYMEX (EOD))');
    t.append('tspan').attr('dx', 4).attr('fill', '#222').text('INDX');
  });
svg.append('text').attr('x', 16).attr('y', 26.8).style('font-size', '10.5px').attr('fill', '#222').text('21-Dec-2010');
svg.append('text').attr('x', R).attr('y', 14).attr('text-anchor', 'end').style('font-size', '10.5px')
  .attr('fill', '#555').text('\u00a9 StockCharts.com');
const lastBar = ohlc[ohlc.length - 1];
svg.append('text').attr('x', 941).attr('y', 26.5).attr('text-anchor', 'end').style('font-size', '11px')
  .call(t => {
    [['Open', lastBar[0].toFixed(2)], ['High', lastBar[1].toFixed(2)], ['Low', lastBar[2].toFixed(2)],
     ['Close', lastBar[3].toFixed(2)], ['Chg', '+0.04 (+1.03%)']].forEach(([k, v], i) => {
      t.append('tspan').attr('font-weight', 'bold').attr('dx', i ? 7 : 0).text(k);
      t.append('tspan').attr('dx', 3).text(v);
    });
  });
svg.append('path').attr('d', 'M944,25.5 L947.5,20.5 L951,25.5 Z').attr('fill', '#2e9a2e');

// ---- legends ----
svg.append('path').attr('d', 'M19,40 L21,33 L23,37 L25.5,31 L28,40 Z').attr('fill', '#62b4c4').attr('stroke', '#2a3bb0');
svg.append('text').attr('class', 'leg').attr('x', 31).attr('y', 40).attr('fill', '#111')
  .text(`RSI(14) ${rsi[rsi.length - 1].toFixed(2)}`);

const legend = [
  {text: `$NATGAS (Monthly) ${lastC.toFixed(2)}`, color: '#111', icon: 'candle'},
  {text: `MA(50) ${last(ma50).toFixed(2)}`, color: '#1c1c86', icon: 'line'},
  {text: `MA(100) ${last(ma100).toFixed(2)}`, color: '#ee1111', icon: 'line'},
  {text: 'MA(200) undef', color: '#0a660a', icon: 'line'},
  {text: `BB(20,2.0) ${last(bbLower).toFixed(2)} - ${last(ma20).toFixed(2)} - ${last(bbUpper).toFixed(2)}`, color: '#9c9c9c', icon: 'mount'},
  {text: `MA(20) ${last(ma20).toFixed(2)}`, color: '#9933ee', icon: 'line'},
  {text: 'Volume undef', color: '#1f8a1f', icon: 'bars'}
];
const gl = svg.append('g');
legend.forEach((d, i) => {
  const by = 181.3 + i * 10.85;
  if (d.icon === 'line') {
    gl.append('line').attr('x1', 19).attr('x2', 29).attr('y1', by - 3.5).attr('y2', by - 3.5)
      .attr('stroke', d.color).attr('stroke-width', 2);
  } else if (d.icon === 'candle') {
    gl.append('path').attr('d', `M20,${by - 8} V${by} M23,${by - 9} V${by + 1} M26,${by - 7} V${by} M28,${by - 8} V${by}`)
      .attr('stroke', '#111');
    gl.append('rect').attr('x', 19.5).attr('y', by - 6).attr('width', 2).attr('height', 4).attr('fill', '#111');
    gl.append('rect').attr('x', 25.5).attr('y', by - 6).attr('width', 2).attr('height', 4).attr('fill', '#fff').attr('stroke', '#111').attr('stroke-width', 0.8);
  } else if (d.icon === 'mount') {
    gl.append('path').attr('d', `M19,${by + 1} L21,${by - 5} L23,${by - 2} L26,${by - 9} L29,${by + 1} Z`).attr('fill', '#a4a4a4');
  } else {
    [0, 2.5, 5, 7.5].forEach((o, j) => gl.append('rect').attr('x', 19 + o).attr('y', by - [5, 8, 6, 9][j])
      .attr('width', 2).attr('height', [5, 8, 6, 9][j]).attr('fill', '#2a8a2a'));
  }
  gl.append('text').attr('class', 'leg').attr('x', 31).attr('y', by).attr('fill', d.color).text(d.text);
});

svg.append('line').attr('x1', 19).attr('x2', 29).attr('y1', 594.5).attr('y2', 594.5).attr('stroke', '#111').attr('stroke-width', 2.2);
svg.append('text').attr('class', 'leg').attr('x', 31).attr('y', 598)
  .call(t => {
    t.append('tspan').attr('fill', '#111').text(`MACD(12,26,9) ${last(macdLine).toFixed(3)}`);
    t.append('tspan').attr('fill', '#3333ee').text(`, ${last(signalLine).toFixed(3)}`);
    t.append('tspan').attr('fill', '#8ccc6c').text(`, ${hist[hist.length - 1].toFixed(3)}`);
  });
</script>
</body>
</html>
